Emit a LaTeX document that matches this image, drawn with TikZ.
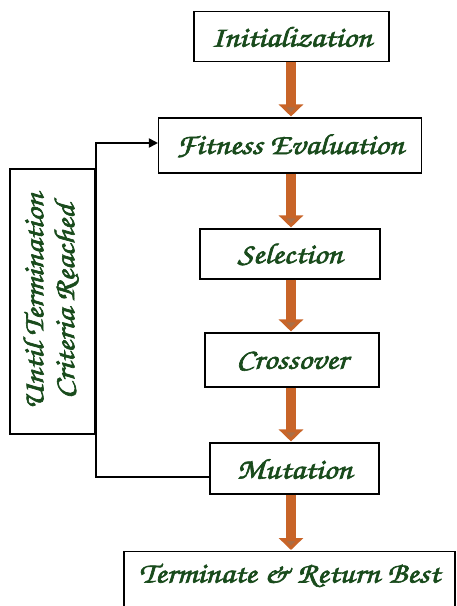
\documentclass[tikz,border=0pt]{standalone}
\usetikzlibrary{arrows.meta}
\definecolor{txtgreen}{RGB}{25,75,28}
\definecolor{shaftor}{RGB}{200,100,40}
\definecolor{heador}{RGB}{170,110,70}
\newcommand{\calli}{\fontencoding{T1}\fontfamily{pzc}\fontseries{mb}\fontshape{it}\fontsize{29}{31}\selectfont}
\newcommand{\lbl}[1]{\special{pdf:literal direct 2 Tr 0.6 w}\scalebox{1.15}[1]{#1}\special{pdf:literal direct 0 Tr}}
\begin{document}
\begin{tikzpicture}[x=1pt,y=-1pt,
  box/.style={draw=black,line width=1.1pt,fill=white,inner sep=0pt,font=\calli,text=txtgreen},
  flowarrow/.style={draw=shaftor,line width=10pt,-{Triangle[width=24pt,length=12pt,fill=heador]},shorten >=1pt},
  loopline/.style={draw=black,line width=1.8pt}]
\useasboundingbox (0,0) rectangle (456,606);
\fill[white] (0,0) rectangle (456,606);
\coordinate (ax) at (291,0);
\node[box,minimum width=195pt,minimum height=50pt] (init) at (291.5,36.5) {\lbl{Initialization}};
\node[box,minimum width=263pt,minimum height=55pt] (fit) at (290,145.5) {\lbl{Fitness Evaluation}};
\node[box,minimum width=180pt,minimum height=50pt] (sel) at (290,254) {\lbl{Selection}};
\node[box,minimum width=174pt,minimum height=54pt] (cross) at (292,360) {\lbl{Crossover}};
\node[box,minimum width=169pt,minimum height=51pt] (mut) at (294.5,468.5) {\lbl{Mutation}};
\node[box,anchor=north,minimum width=331pt,text height=25pt,text depth=70pt,inner ysep=6pt] (term) at (289.5,551) {\lbl{Terminate \& Return Best}};
\node[box,minimum width=85pt,minimum height=265pt,align=center] (until) at (52.5,301.5)
  {\rotatebox{90}{\lbl{\begin{tabular}{@{}c@{}}Until Termination\\ Criteria Reached\end{tabular}}}};
\draw[flowarrow] (init.south -| ax) -- (fit.north -| ax);
\draw[flowarrow] (fit.south -| ax) -- (sel.north -| ax);
\draw[flowarrow] (sel.south -| ax) -- (cross.north -| ax);
\draw[flowarrow] (cross.south -| ax) -- (mut.north -| ax);
\draw[flowarrow] (mut.south -| ax) -- (term.north -| ax);
\coordinate (lx) at (96,0);
\draw[loopline,-{Triangle[width=9pt,length=9pt]}] (mut.west |- 0,477) -- (lx |- 0,477) -- (lx |- 0,143) -- (fit.west |- 0,143);
\end{tikzpicture}
\end{document}
